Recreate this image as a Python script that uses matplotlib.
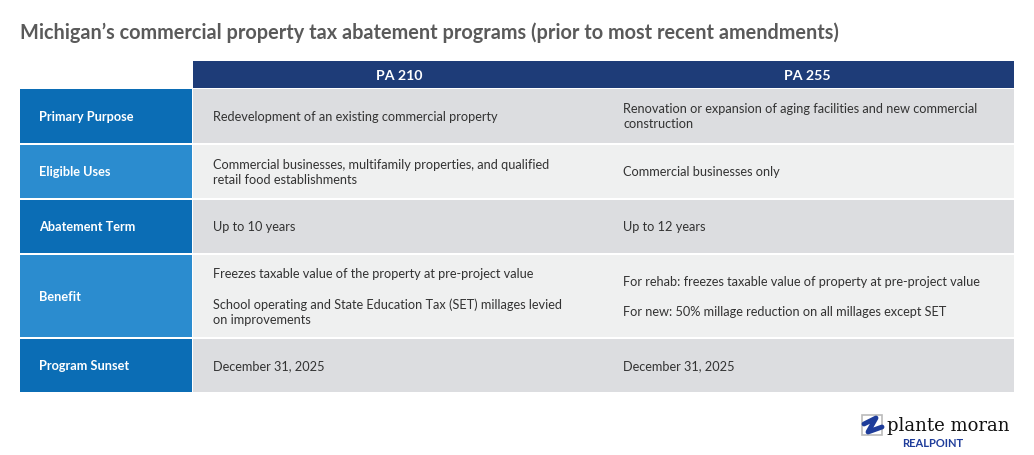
import matplotlib.pyplot as plt
from matplotlib.patches import Rectangle

title = "Michigan\u2019s commercial property tax abatement programs (prior to most recent amendments)"
columns = ["PA 210", "PA 255"]
row_labels = ["Primary Purpose", "Eligible Uses", "Abatement Term", "Benefit", "Program Sunset"]
pa210 = [
    "Redevelopment of an existing commercial property",
    "Commercial businesses, multifamily properties, and qualified\nretail food establishments",
    "Up to 10 years",
    "Freezes taxable value of the property at pre-project value\n\nSchool operating and State Education Tax (SET) millages levied\non improvements",
    "December 31, 2025",
]
pa255 = [
    "Renovation or expansion of aging facilities and new commercial\nconstruction",
    "Commercial businesses only",
    "Up to 12 years",
    "For rehab: freezes taxable value of property at pre-project value\n\nFor new: 50% millage reduction on all millages except SET",
    "December 31, 2025",
]

# layout in pixels
W, H = 1034, 456
row_top = [90, 146, 201, 256, 340]
row_bot = [144, 199, 254, 338, 393]
label_fill = ["#0b6db5", "#2b8ccf"]
cell_fill = ["#dcdde0", "#eff0f0"]

fig = plt.figure(figsize=(W / 100, H / 100), dpi=100)
ax = fig.add_axes([0, 0, 1, 1])
ax.set_xlim(0, W)
ax.set_ylim(H, 0)
ax.axis("off")

ax.text(20, 33, title, fontsize=14.3, fontweight="bold", color="#5a5a5a",
        va="center", family="Lato")

# header
ax.add_patch(Rectangle((193, 62), 821, 27, color="#1e3c78", lw=0))
ax.text(399, 76, columns[0], color="white", fontsize=10.2, fontweight="bold",
        ha="center", va="center", family="Lato")
ax.text(807, 76, columns[1], color="white", fontsize=10.2, fontweight="bold",
        ha="center", va="center", family="Lato")

for i, lab in enumerate(row_labels):
    t, b = row_top[i], row_bot[i]
    ax.add_patch(Rectangle((20, t), 172, b - t, color=label_fill[i % 2], lw=0))
    ax.add_patch(Rectangle((193, t), 821, b - t, color=cell_fill[i % 2], lw=0))
    yc = (t + b) / 2
    ax.text(39, yc, lab, color="white", fontsize=9.2, fontweight="bold",
            va="center", family="Lato")
    ax.text(213, yc, pa210[i], color="#333333", fontsize=9.2, va="center",
            family="Lato", linespacing=1.3)
    ax.text(623, yc, pa255[i], color="#333333", fontsize=9.2, va="center",
            family="Lato", linespacing=1.3)

# logo
ax.add_patch(Rectangle((862, 416), 20, 20, fill=False, ec="#bbbbbb", lw=1.2))
ax.plot([864, 876, 868, 882], [425, 419, 433, 428], color="#1e3c9a", lw=3.5,
        solid_capstyle="round")
ax.text(887, 426, "plante moran", fontsize=13, color="#111111",
        va="center", family="DejaVu Serif")
ax.text(902, 444, "REALPOINT", fontsize=8, fontweight="bold", color="#1e3c9a",
        va="center", family="Lato")

fig.savefig("out.png", dpi=100, facecolor="white")
